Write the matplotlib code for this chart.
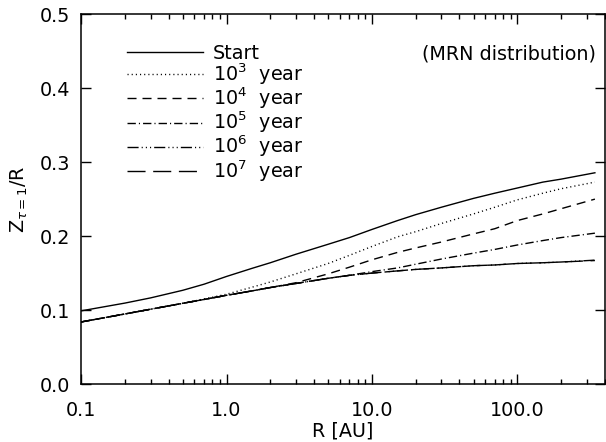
import matplotlib
matplotlib.use("Agg")
import matplotlib.pyplot as plt
from matplotlib.ticker import FixedLocator, FixedFormatter, NullFormatter, LogLocator

plt.rcParams['font.family'] = ['DejaVu Sans']
plt.rcParams['mathtext.fontset'] = 'dejavusans'

# ---- data ----
R = [0.1, 0.2, 0.3, 0.5, 0.7, 1.0, 1.5, 2.0, 3.0, 5.0, 7.0, 10.0, 15.0, 20.0,
     30.0, 50.0, 70.0, 100.0, 150.0, 200.0, 342.0]

z_start = [0.099, 0.1095, 0.1165, 0.1268, 0.1350, 0.1455, 0.1565, 0.164, 0.1755, 0.189,
           0.198, 0.209, 0.221, 0.229, 0.239, 0.251, 0.258, 0.265, 0.273, 0.277, 0.2856]
z_1e3 = [0.084, 0.0948, 0.1012, 0.1092, 0.1150, 0.1215, 0.131, 0.138, 0.149, 0.163,
         0.174, 0.186, 0.199, 0.206, 0.217, 0.230, 0.239, 0.249, 0.258, 0.264, 0.273]
z_1e4 = [0.084, 0.0948, 0.1012, 0.1092, 0.1144, 0.120, 0.126, 0.1305, 0.137, 0.149,
         0.158, 0.168, 0.178, 0.184, 0.192, 0.203, 0.210, 0.221, 0.230, 0.237, 0.250]
z_1e5 = [0.084, 0.0948, 0.1012, 0.1092, 0.1144, 0.120, 0.126, 0.1305, 0.136, 0.143,
         0.147, 0.152, 0.157, 0.162, 0.169, 0.177, 0.182, 0.188, 0.194, 0.198, 0.204]
z_1e6 = [0.084, 0.0948, 0.1012, 0.1092, 0.1144, 0.120, 0.126, 0.1305, 0.136, 0.143,
         0.147, 0.150, 0.153, 0.155, 0.157, 0.160, 0.161, 0.163, 0.164, 0.165, 0.1675]
z_1e7 = [0.084, 0.0948, 0.1012, 0.1092, 0.1144, 0.120, 0.126, 0.1305, 0.136, 0.143,
         0.147, 0.150, 0.153, 0.155, 0.157, 0.160, 0.161, 0.163, 0.164, 0.165, 0.167]

labels = ['Start', r'$10^3$  year', r'$10^4$  year', r'$10^5$  year',
          r'$10^6$  year', r'$10^7$  year']

xticks = [0.1, 1.0, 10.0, 100.0]
xticklabels = ['0.1', '1.0', '10.0', '100.0']
yticks = [0.0, 0.1, 0.2, 0.3, 0.4, 0.5]
yticklabels = ['0.0', '0.1', '0.2', '0.3', '0.4', '0.5']

FS = 13.8

# ---- figure ----
fig = plt.figure(figsize=(6.06, 4.42), dpi=100)
ax = fig.add_axes([0.134, 0.131, 0.864, 0.837])

styles = [
    dict(linestyle='-'),
    dict(linestyle=(0, (0.8, 2.2))),
    dict(linestyle=(0, (6.5, 4.3))),
    dict(linestyle=(0, (6.0, 2.2, 0.8, 2.2))),
    dict(linestyle=(0, (8.0, 2.2, 0.8, 2.2, 0.8, 2.2, 0.8, 2.2))),
    dict(linestyle=(0, (13.0, 5.5))),
]
series = [z_start, z_1e3, z_1e4, z_1e5, z_1e6, z_1e7]
for s, st, lab in zip(series, styles, labels):
    ax.plot(R, s, color='black', lw=1.0, label=lab, **st)

ax.set_xscale('log')
ax.set_xlim(0.1, 400)
ax.set_ylim(0.0, 0.5)

ax.xaxis.set_major_locator(FixedLocator(xticks))
ax.xaxis.set_major_formatter(FixedFormatter(xticklabels))
ax.xaxis.set_minor_locator(LogLocator(base=10, subs=range(2, 10), numticks=20))
ax.xaxis.set_minor_formatter(NullFormatter())
ax.yaxis.set_major_locator(FixedLocator(yticks))
ax.yaxis.set_major_formatter(FixedFormatter(yticklabels))

ax.tick_params(which='major', direction='in', length=7, width=1.0, top=True, right=True,
               labelsize=FS, color='black')
ax.tick_params(axis='x', which='major', pad=12)
ax.tick_params(axis='y', which='major', pad=8)
ax.tick_params(which='minor', direction='in', length=3.5, width=1.0, top=True, right=True)
for sp in ax.spines.values():
    sp.set_linewidth(1.1)

ax.set_xlabel('R [AU]', fontsize=FS, labelpad=1)
ax.set_ylabel(r'Z$_{\tau=1}$/R', fontsize=FS, labelpad=7)

ax.text(0.983, 0.893, '(MRN distribution)', transform=ax.transAxes, ha='right',
        va='center', fontsize=FS)

leg = ax.legend(loc='upper left', bbox_to_anchor=(0.088, 0.92), frameon=False,
                fontsize=FS, handlelength=3.95, handletextpad=0.5, labelspacing=-0.07,
                borderaxespad=0, borderpad=0)

fig.savefig('out.png', dpi=100)
